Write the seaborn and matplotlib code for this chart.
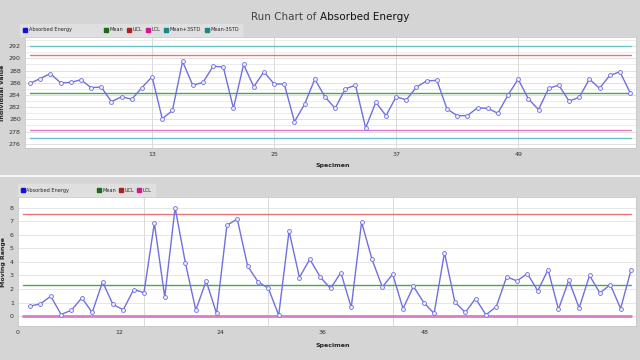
import numpy as np
import pandas as pd
import matplotlib
matplotlib.use("Agg")
import matplotlib.pyplot as plt
import seaborn as sns
from matplotlib.patches import Patch

# Individual values
absorbed = [285.9, 286.7, 287.5, 286.0, 286.05, 286.5, 285.2, 285.3, 282.9, 283.7,
            283.3, 285.2, 287.0, 280.1, 281.45, 289.5, 285.6, 286.05, 288.7, 288.6,
            281.8, 289.0, 285.35, 287.8, 285.8, 285.8, 279.6, 282.5, 286.6, 283.7,
            281.8, 285.0, 285.6, 278.6, 282.8, 280.6, 283.7, 283.2, 285.3, 286.3,
            286.4, 281.7, 280.6, 280.6, 281.9, 281.8, 281.0, 284.0, 286.6, 283.35,
            281.6, 285.1, 285.6, 283.0, 283.6, 286.6, 285.1, 287.2, 287.8, 284.4]
ind_mean, ind_ucl, ind_lcl = 284.4, 290.6, 278.3
ind_plus3, ind_minus3 = 292.0, 276.9

# Moving range values
moving_range = [0.74, 0.91, 1.47, 0.12, 0.44, 1.35, 0.27, 2.53, 0.86, 0.47,
                1.96, 1.74, 6.87, 1.40, 8.0, 3.9, 0.44, 2.6, 0.2, 6.7,
                7.17, 3.7, 2.53, 2.06, 0.07, 6.28, 2.85, 4.2, 2.9, 2.04,
                3.21, 0.64, 6.94, 4.2, 2.15, 3.09, 0.55, 2.2, 1.0, 0.2,
                4.69, 1.05, 0.27, 1.3, 0.1, 0.7, 2.9, 2.6, 3.14, 1.87,
                3.43, 0.5, 2.65, 0.6, 3.0, 1.7, 2.33, 0.56, 3.39]
mr_mean, mr_ucl, mr_lcl = 2.33, 7.56, 0.0

top_ticks = [13, 25, 37, 49]
mr_grid = [12, 24, 36, 48]
mr_tick_labels = ["0", "12", "24", "36", "48"]

df_top = pd.DataFrame({"Specimen": np.arange(1, len(absorbed) + 1), "Value": absorbed})
df_mr = pd.DataFrame({"Specimen": np.arange(1, len(moving_range) + 1), "MR": moving_range})

sns.set_theme(style="white")
plt.rcParams['font.family'] = ['DejaVu Sans']

BG = "#d5d5d5"
LINE = "#7070e0"
GREEN = "#4aa84a"
RED = "#e87474"
PINK = "#dc7cc4"
TEAL = "#68c4c4"

fig = plt.figure(figsize=(6.4, 3.6), dpi=100, facecolor=BG)

fig.text(0.5, 0.952, "Run Chart of ", ha="right", va="center", fontsize=7.5, color="#444444")
fig.text(0.5, 0.952, "Absorbed Energy", ha="left", va="center", fontsize=7.5, color="#111111")

line_kw = dict(color=LINE, lw=1.0, marker="o", markersize=2.8, markerfacecolor="#ececff",
               markeredgecolor=LINE, markeredgewidth=0.6)

# ---------------- top: individual values ----------------
ax1 = fig.add_axes([0.039, 0.589, 0.955, 0.308])
ax1.set_facecolor("white")
for y in range(276, 294):
    ax1.axhline(y, color="#e8e8e8" if y % 2 else "#dcdcdc", lw=0.6, zorder=0)
for x in top_ticks:
    ax1.axvline(x, color="#dadada", lw=0.7, zorder=0)

ax1.axhline(ind_plus3, xmin=0.008, xmax=0.992, color=TEAL, lw=1.0)
ax1.axhline(ind_minus3, xmin=0.008, xmax=0.992, color=TEAL, lw=1.0)
ax1.axhline(ind_ucl, xmin=0.008, xmax=0.992, color=RED, lw=1.0)
ax1.axhline(ind_lcl, xmin=0.008, xmax=0.992, color=PINK, lw=1.0)
ax1.axhline(ind_mean, xmin=0.008, xmax=0.992, color=GREEN, lw=1.0)
sns.lineplot(data=df_top, x="Specimen", y="Value", ax=ax1, **line_kw)
ax1.set_xlim(0.5, 60.6)
ax1.set_ylim(275.3, 293.5)
ax1.set_xticks(top_ticks)
ax1.set_yticks(range(276, 293, 2))
ax1.tick_params(labelsize=4.5, length=0, pad=3, colors="#333333")
ax1.set_xlabel("Specimen", fontsize=4.5, fontweight="bold")
ax1.xaxis.set_label_coords(0.503, -0.14)
ax1.set_ylabel("Individual Value", fontsize=4.5, fontweight="bold")
ax1.yaxis.set_label_coords(-0.032, 0.5)
for s in ax1.spines.values():
    s.set_color("#c8c8c8")
    s.set_linewidth(0.6)

handles1 = [Patch(color="#1010e0", label="Absorbed Energy"),
            Patch(color="#1a6a1a", label="Mean"),
            Patch(color="#b02020", label="UCL"),
            Patch(color="#d01890", label="LCL"),
            Patch(color="#168888", label="Mean+3STD"),
            Patch(color="#168888", label="Mean-3STD")]
leg1 = fig.legend(handles=handles1, loc="center left", bbox_to_anchor=(0.03, 0.917),
                  ncol=6, fontsize=3.6, frameon=True, handlelength=0.8, handleheight=0.8,
                  handletextpad=0.3, columnspacing=0.8, borderpad=0.35)
leg1.get_frame().set_facecolor("#e2e2e2")
leg1.get_frame().set_edgecolor("#e2e2e2")
leg1.get_frame().set_boxstyle("square")
leg1.get_texts()[0].set_text("Absorbed Energy" + " " * 17)

# ---------------- bottom: moving range ----------------
ax2 = fig.add_axes([0.028, 0.094, 0.966, 0.358])
ax2.set_facecolor("white")
for y in range(0, 9):
    ax2.axhline(y, color="#e2e2e2", lw=0.6, zorder=0)
for x in mr_grid:
    ax2.axvline(x, color="#dadada", lw=0.7, zorder=0)

ax2.axhline(mr_ucl, xmin=0.008, xmax=0.992, color=RED, lw=1.0)
ax2.axhline(mr_mean, xmin=0.008, xmax=0.992, color=GREEN, lw=1.0)
ax2.axhline(mr_lcl, xmin=0.008, xmax=0.992, color=PINK, lw=2.0)
sns.lineplot(data=df_mr, x="Specimen", y="MR", ax=ax2, **line_kw)
ax2.set_xlim(0.2, 59.5)
ax2.set_ylim(-0.74, 8.77)
ax2.set_xticks([-0.17, 9.66, 19.4, 29.2, 39.1])
ax2.set_xticklabels(mr_tick_labels)
ax2.set_yticks(range(0, 9))
ax2.tick_params(labelsize=4.5, length=0, pad=3, colors="#333333")
ax2.set_xlabel("Specimen", fontsize=4.5, fontweight="bold")
ax2.xaxis.set_label_coords(0.51, -0.13)
ax2.set_ylabel("Moving Range", fontsize=4.5, fontweight="bold")
ax2.yaxis.set_label_coords(-0.02, 0.5)
for s in ax2.spines.values():
    s.set_color("#c8c8c8")
    s.set_linewidth(0.6)

handles2 = handles1[:4]
leg2 = fig.legend(handles=handles2, loc="center left", bbox_to_anchor=(0.026, 0.472),
                  ncol=4, fontsize=3.6, frameon=True, handlelength=0.8, handleheight=0.8,
                  handletextpad=0.3, columnspacing=0.6, borderpad=0.35)
leg2.get_frame().set_facecolor("#e2e2e2")
leg2.get_frame().set_edgecolor("#e2e2e2")
leg2.get_frame().set_boxstyle("square")
leg2.get_texts()[0].set_text("Absorbed Energy" + " " * 15)

# thin white separator between the panels
fig.add_artist(plt.Line2D([0, 1], [0.51, 0.51], color="white", lw=1.2))

fig.savefig("out.png", dpi=100, facecolor=BG)
